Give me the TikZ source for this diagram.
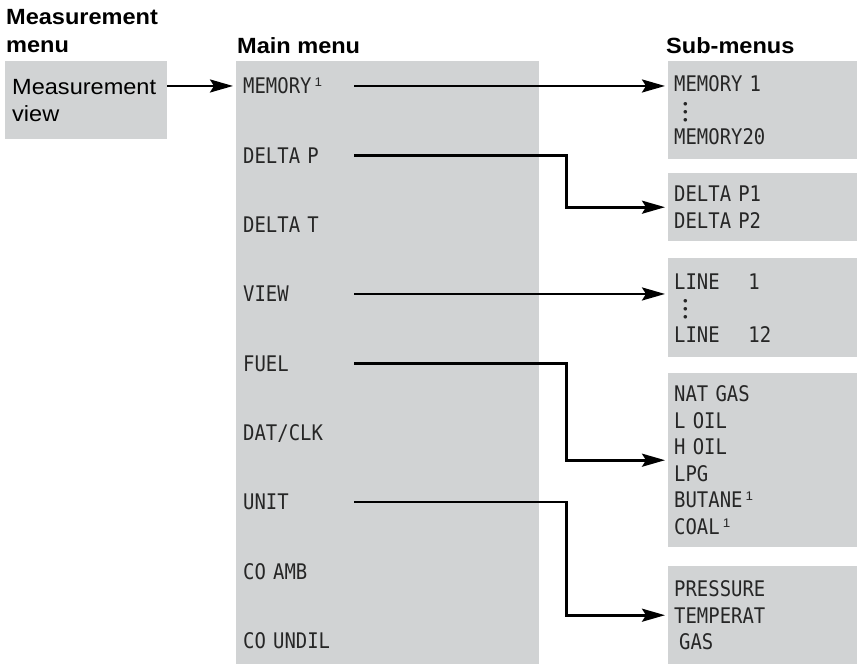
\documentclass[tikz,border=0pt]{standalone}
\usepackage{fontspec}
\setmainfont[FakeStretch=1.07]{Liberation Sans}
\newfontfamily\lcdfont[FakeStretch=0.88]{DejaVu Sans Mono}
\usetikzlibrary{arrows.meta}
\definecolor{panelgray}{RGB}{209,211,212}
\newcommand{\supone}{\hspace{3pt}\raisebox{7pt}{\normalfont\fontsize{12.5}{12.5}\selectfont 1}}
\newcommand{\lcdbullet}{\fontsize{9}{9}\selectfont$\bullet$}
\newcommand{\lcddots}{\hspace*{9pt}\raisebox{-4pt}{\vbox{\baselineskip=8pt\lineskiplimit=-20pt\hbox{\lcdbullet}\hbox{\lcdbullet}\hbox{\lcdbullet}}}}

\begin{document}
\begin{tikzpicture}[
		x=1pt, y=-1pt,
		every node/.style={inner sep=0pt},
		heading/.style={font=\fontsize{22}{28}\selectfont\bfseries, align=left},
		panel/.style={rectangle, fill=panelgray},
		lcd/.style={font=\lcdfont\fontsize{21.5}{26.5}\selectfont, text=black!85},
		item/.style={lcd, text width=111pt, align=left, anchor=base west},
		submenu/.style={panel, lcd, anchor=north west, text width=177pt, inner xsep=6pt, align=left},
		arr/.style={line width=2.6pt, shorten >=3pt, -{Stealth[length=23pt, width=13pt, inset=4pt]}}
	]
  \useasboundingbox (0,0) rectangle (862,664);
  \node (h_meas) [heading, anchor=north west] at (6,9) {Measurement\\menu};
  \node (h_main) [heading, anchor=base west] at (237,53) {Main menu};
  \node (h_sub) [heading, anchor=base west] at (666,53) {Sub-menus};
  \node (mview) [panel, anchor=north west, minimum width=162pt, minimum height=78pt, text width=148pt, inner xsep=7pt, align=left, font=\fontsize{22}{27}\selectfont] at (5,61) {Measurement\\view};
  \node (main) [panel, anchor=north west, minimum width=303pt, minimum height=603pt] at (236,61) {};
  \node (mem) [item] at (243,93.8) {MEMORY\supone};
  \node (dp) [item] at (243,163.1) {DELTA P};
  \node (dt) [item] at (243,232.4) {DELTA T};
  \node (view) [item] at (243,301.8) {VIEW};
  \node (fuel) [item] at (243,371.1) {FUEL};
  \node (datclk) [item] at (243,440.4) {DAT/CLK};
  \node (unit) [item] at (243,509.8) {UNIT};
  \node (coamb) [item] at (243,579.1) {CO AMB};
  \node (coundil) [item] at (243,648.4) {CO UNDIL};
  \node (s_mem) [submenu, minimum height=98pt] at (668,61) {MEMORY~1\\\lcddots\\MEMORY20};
  \node (s_delta) [submenu, minimum height=68pt] at (668,173) {DELTA P1\\DELTA P2};
  \node (s_line) [submenu, minimum height=99pt] at (668,258) {LINE~~~~1\\\lcddots\\LINE~~~~12};
  \node (s_fuel) [submenu, minimum height=174pt] at (668,373) {NAT GAS\\L OIL\\H OIL\\LPG\\BUTANE\supone\\COAL\supone};
  \node (s_unit) [submenu, minimum height=98pt] at (668,566) {PRESSURE\\TEMPERAT\\\hspace*{5pt}GAS};
  \draw[arr] (mview.east |- mem.east) -- (main.west |- mem.east);
  \draw[arr] (mem.east) -- (s_mem.west |- mem.east);
  \draw[arr] (dp.east) -- ++(212,0) |- (s_delta.west);
  \draw[arr] (view.east) -- (s_line.west |- view.east);
  \draw[arr] (fuel.east) -- ++(212,0) |- (s_fuel.west);
  \draw[arr] (unit.east) -- ++(212,0) |- (s_unit.west);
\end{tikzpicture}
\end{document}
